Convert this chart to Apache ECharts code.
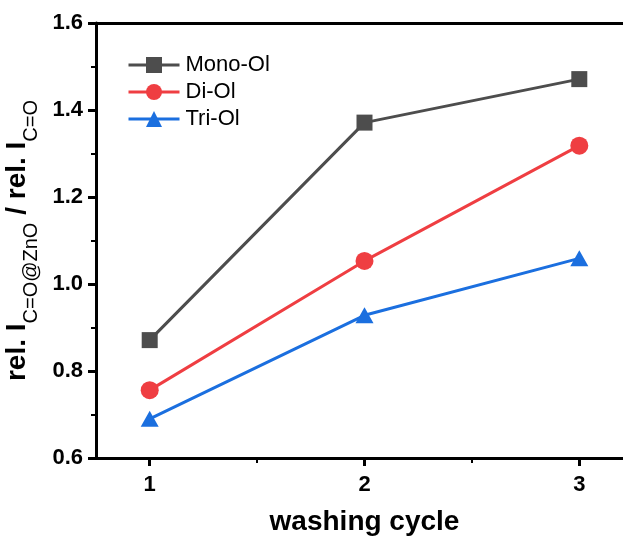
<!DOCTYPE html>
<html>
<head>
<meta charset="utf-8">
<script src="https://cdn.jsdelivr.net/npm/echarts@6/dist/echarts.min.js"></script>
<style>
html,body{margin:0;padding:0;background:#fff;}
#chart{width:623px;height:540px;}
</style>
</head>
<body>
<div id="chart"></div>
<script>
// ---- data ----
const cycles = [1, 2, 3];
const monoOl = [0.871, 1.371, 1.471];
const diOl = [0.756, 1.053, 1.318];
const triOl = [0.690, 0.928, 1.059];
const seriesNames = ['Mono-Ol', 'Di-Ol', 'Tri-Ol'];
const xTickValues = [1, 2, 3];
const xMinorTickValues = [1.5, 2.5];

const toPairs = (ys) => cycles.map((c, i) => [c, ys[i]]);

const chart = echarts.init(document.getElementById('chart'), null, {renderer: 'canvas'});
const FONT = 'Liberation Sans, Arial, sans-serif';
const axisLineStyle = {color: '#000', width: 3};

const option = {
  backgroundColor: '#fff',
  animation: false,
  grid: {left: 96, top: 23, width: 537, height: 435, containLabel: false, outerBoundsMode: 'none'},
  legend: {
    orient: 'vertical',
    left: 127,
    top: 54,
    padding: 0,
    itemWidth: 51,
    itemHeight: 20,
    itemGap: 5,
    lineStyle: {width: 3},
    textStyle: {fontFamily: FONT, fontSize: 22, color: '#000', lineHeight: 22, padding: [0, 0, 0, 1]},
    data: seriesNames
  },
  xAxis: [
    {
      type: 'value', position: 'bottom', min: 0.75, max: 3.25,
      axisLine: {show: true, lineStyle: axisLineStyle, onZero: false},
      axisTick: {show: true, customValues: xTickValues, length: 8, lineStyle: {color: '#000', width: 3}},
      axisLabel: {show: true, customValues: xTickValues, margin: 16, fontFamily: FONT, fontSize: 22, fontWeight: 'bold', color: '#000'},
      splitLine: {show: false},
      name: 'washing cycle', nameLocation: 'middle', nameGap: 50,
      nameTextStyle: {fontFamily: FONT, fontSize: 28, fontWeight: 'bold', color: '#000'}
    },
    {
      type: 'value', position: 'top', min: 0.75, max: 3.25,
      axisLine: {show: true, lineStyle: axisLineStyle, onZero: false},
      axisTick: {show: false}, axisLabel: {show: false}, splitLine: {show: false}
    },
    {
      type: 'value', position: 'bottom', min: 0.75, max: 3.25, offset: 0,
      axisLine: {show: false, onZero: false},
      axisTick: {show: true, customValues: xMinorTickValues, length: 5, lineStyle: {color: '#000', width: 2}},
      axisLabel: {show: false}, splitLine: {show: false}
    }
  ],
  yAxis: [
    {
      type: 'value', position: 'left', min: 0.6, max: 1.6, interval: 0.2,
      axisLine: {show: true, lineStyle: axisLineStyle, onZero: false},
      axisTick: {show: true, length: 8, lineStyle: {color: '#000', width: 3}},
      minorTick: {show: true, splitNumber: 2, length: 5, lineStyle: {color: '#000', width: 2}},
      axisLabel: {margin: 13, fontFamily: FONT, fontSize: 22, fontWeight: 'bold', color: '#000',
        formatter: (v) => v.toFixed(1)},
      splitLine: {show: false},
      name: '{m|rel. I}{s|C=O@ZnO}{m| / rel. I}{s|C=O}',
      nameLocation: 'middle', nameRotate: 90, nameGap: 49,
      nameTextStyle: {
        fontFamily: FONT, color: '#000',
        rich: {
          m: {fontFamily: FONT, fontSize: 28, fontWeight: 'bold', color: '#000', lineHeight: 28, verticalAlign: 'top'},
          s: {fontFamily: FONT, fontSize: 20, fontWeight: 'normal', color: '#000', lineHeight: 38, verticalAlign: 'bottom'}
        }
      }
    }
  ],
  series: [
    {
      name: seriesNames[0], type: 'line', data: toPairs(monoOl),
      symbol: 'rect', symbolSize: 16,
      lineStyle: {color: '#4d4d4d', width: 3},
      itemStyle: {color: '#4d4d4d'}
    },
    {
      name: seriesNames[1], type: 'line', data: toPairs(diOl),
      symbol: 'circle', symbolSize: 18,
      lineStyle: {color: '#ef3e42', width: 3},
      itemStyle: {color: '#ef3e42'}
    },
    {
      name: seriesNames[2], type: 'line', data: toPairs(triOl),
      symbol: 'triangle', symbolSize: [18, 16],
      lineStyle: {color: '#1b6fdf', width: 3},
      itemStyle: {color: '#1b6fdf'}
    }
  ]
};
chart.setOption(option);
</script>
</body>
</html>
